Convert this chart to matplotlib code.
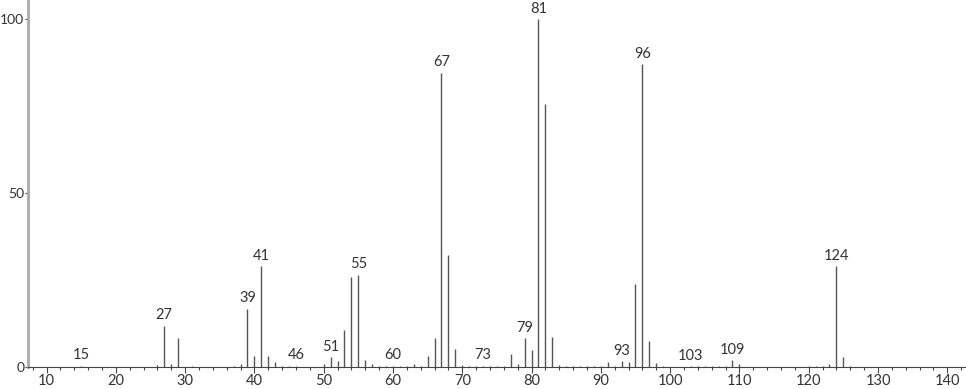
import numpy as np
import matplotlib.pyplot as plt
from matplotlib.ticker import MultipleLocator

plt.rcParams['font.family'] = ['Lato', 'DejaVu Sans']

# m/z and relative intensity
mz = [15, 26, 27, 28, 29, 31, 37, 38, 39, 40, 41, 42, 43, 44, 45, 46,
      50, 51, 52, 53, 54, 55, 56, 57, 58, 59, 60, 61, 62, 63, 64, 65,
      66, 67, 68, 69, 70, 71, 72, 73, 74, 75, 76, 77, 78, 79, 80, 81,
      82, 83, 84, 85, 86, 87, 88, 89, 90, 91, 92, 93, 94, 95, 96, 97,
      98, 99, 100, 103, 104, 105, 106, 107, 108, 109, 110, 120, 121, 122, 123, 124,
      125, 126]
intensity = [0.4, 0.7, 11.8, 0.9, 8.4, 0.2, 0.3, 0.9, 16.8, 3.2, 28.9, 3.2, 1.5, 0.4, 0.2, 0.3,
             1.0, 2.8, 1.6, 10.5, 25.8, 26.5, 2.0, 0.9, 0.4, 0.2, 0.3, 0.2, 0.3, 0.9, 0.3, 3.1,
             8.3, 84.6, 32.2, 5.2, 0.7, 0.3, 0.2, 0.3, 0.3, 0.3, 0.4, 3.6, 0.9, 8.2, 4.9, 100.0,
             75.7, 8.5, 0.7, 0.3, 0.3, 0.2, 0.2, 0.2, 0.2, 1.5, 0.4, 1.7, 1.5, 23.8, 87.1, 7.5,
             1.1, 0.2, 0.1, 0.2, 0.2, 0.2, 0.2, 0.2, 0.2, 2.0, 0.9, 0.3, 0.3, 0.3, 0.8, 28.9,
             2.8, 0.2]
labelled = [15, 27, 39, 41, 46, 51, 55, 60, 67, 73, 79, 81, 93, 96, 103, 109, 124]

fig = plt.figure(figsize=(9.66, 3.89), dpi=100)
ax = fig.add_axes([0.0295, 0.0566, 0.9705, 0.9434])

ax.vlines(mz, 0, intensity, color='#555555', linewidth=1.0)

lookup = dict(zip(mz, intensity))
for m in labelled:
    ax.text(m, lookup.get(m, 0) + 1.0, str(m), ha='center', va='bottom',
            fontsize=10.5, color='#333333')

ax.set_xlim(7.4, 142.7)
ax.set_ylim(0, 105.5)
ax.xaxis.set_major_locator(MultipleLocator(10))
ax.xaxis.set_minor_locator(MultipleLocator(2))
ax.set_yticks([0, 50, 100])

ax.spines['top'].set_visible(False)
ax.spines['right'].set_visible(False)
ax.spines['left'].set_color('#aaaaaa')
ax.spines['left'].set_linewidth(2)
ax.spines['bottom'].set_color('#444444')
ax.spines['bottom'].set_linewidth(0.8)

ax.tick_params(axis='x', which='major', length=4, width=0.8, color='#444444',
               labelsize=10.5, labelcolor='#333333', pad=1)
ax.tick_params(axis='x', which='minor', length=2, width=0.8, color='#444444')
ax.tick_params(axis='y', length=2.5, width=0.8, color='#444444',
               labelsize=10, labelcolor='#333333', pad=0.5)

fig.savefig('out.png', dpi=100)
